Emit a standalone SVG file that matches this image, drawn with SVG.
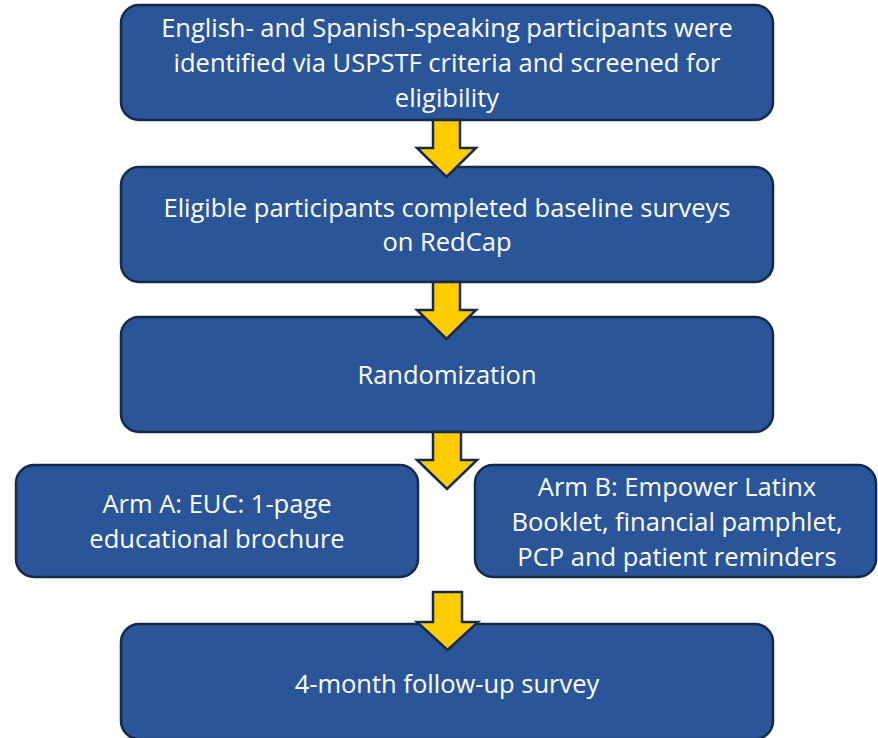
<svg xmlns="http://www.w3.org/2000/svg" width="878" height="738" viewBox="0 0 878 738">
<style>
.box{fill:#2A5699;stroke:#17294A;stroke-width:2.5}
.arr{fill:#FFCC00;stroke:#17294A;stroke-width:2.5;stroke-linejoin:miter}
text{font-family:"Open Sans","Liberation Sans",Arial,sans-serif;font-size:25.5px;fill:#FFFFFF;text-anchor:middle}
</style>
<rect width="878" height="738" fill="#FFFFFF"/>
<g id="n1"><rect class="box" x="121" y="5" width="652" height="115" rx="18"/>
<text x="447" y="37">English- and Spanish-speaking participants were</text>
<text x="447" y="72">identified via USPSTF criteria and screened for</text>
<text x="447" y="107">eligibility</text></g>
<g id="n2"><rect class="box" x="121" y="167" width="652" height="115" rx="18"/>
<text x="447" y="217">Eligible participants completed baseline surveys</text>
<text x="447" y="251">on RedCap</text></g>
<g id="n3"><rect class="box" x="121" y="317" width="652" height="115" rx="18"/>
<text x="447" y="384">Randomization</text></g>
<g id="nA"><rect class="box" x="16" y="465" width="402" height="112" rx="18"/>
<text x="217" y="513">Arm A: EUC: 1-page</text>
<text x="217" y="548">educational brochure</text></g>
<g id="nB"><rect class="box" x="475" y="465" width="401" height="112" rx="18"/>
<text x="677" y="496">Arm B: Empower Latinx</text>
<text x="677" y="531">Booklet, financial pamphlet,</text>
<text x="677" y="566">PCP and patient reminders</text></g>
<g id="n5"><rect class="box" x="121" y="624" width="652" height="115" rx="18"/>
<text x="447" y="693">4-month follow-up survey</text></g>
<g id="connectors">
<path class="arr" d="M433,120 L460,120 L460,148 L476,148 L446.5,177 L417,148 L433,148 Z"/>
<path class="arr" d="M433,282 L460,282 L460,310 L476,310 L446.5,339 L417,310 L433,310 Z"/>
<path class="arr" d="M433,432 L461,432 L461,460 L477,460 L447,489 L417,460 L433,460 Z"/>
<path class="arr" d="M433,592 L462,592 L462,622 L478,622 L447.5,650 L417,622 L433,622 Z"/>
</g>
</svg>
